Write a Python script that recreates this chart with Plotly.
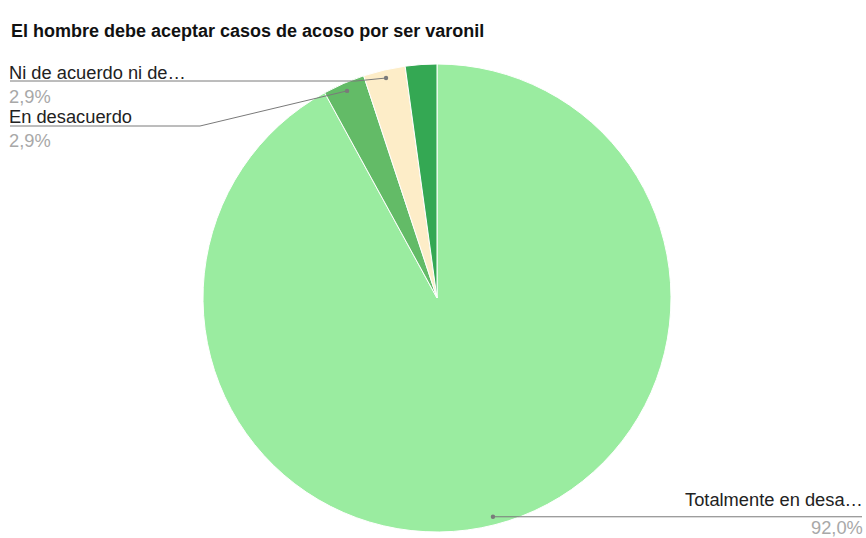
import math
import plotly.graph_objects as go

# ---- data ----
categories = ["Totalmente en desacuerdo", "En desacuerdo",
              "Ni de acuerdo ni en desacuerdo", "De acuerdo"]
short_labels = ["Totalmente en desa…", "En desacuerdo", "Ni de acuerdo ni de…", ""]
counts = [127, 4, 4, 3]
colors = ["#9aeca0", "#63bb67", "#fdedc8", "#34a853"]
title = "El hombre debe aceptar casos de acoso por ser varonil"

W, H = 866, 538
# pie box in pixels
left, right, top, bottom = 203, 671, 64, 532

def px(x):
    return x / W

def py(y):
    return 1 - y / H

fig = go.Figure(go.Pie(
    labels=categories, values=counts, sort=False, direction="clockwise",
    rotation=0, marker=dict(colors=colors, line=dict(color="white", width=1)),
    textinfo="none", hoverinfo="label+percent",
    domain=dict(x=[px(left), px(right)], y=[py(bottom), py(top)]),
    showlegend=False,
))

# geometry of the pie (computed from domain)
cx, cy = (left + right) / 2, (top + bottom) / 2
R = min(right - left, bottom - top) / 2
total = sum(counts)
mids = []
acc = 0
for v in counts:
    mids.append((acc + v / 2) / total * 360)
    acc += v
def dot(i):
    a = math.radians(mids[i])
    return cx + 0.965 * R * math.sin(a), cy - 0.965 * R * math.cos(a)

pcts = [("%.1f%%" % (v / total * 100)).replace(".", ",") for v in counts]

shapes = []
annotations = []
LINE = "#7a7a7a"
TXT = "#222222"
GRAY = "#a8a8a8"
FS = 18.3
FONT = "Liberation Sans, Arial"

def polyline(pts):
    path = "M " + " L ".join(f"{px(x)},{py(y)}" for x, y in pts)
    shapes.append(dict(type="path", xref="paper", yref="paper", path=path,
                       line=dict(color=LINE, width=1)))

def dotshape(x, y):
    shapes.append(dict(type="circle", xref="paper", yref="paper",
                       x0=px(x - 2.2), x1=px(x + 2.2), y0=py(y + 2.2), y1=py(y - 2.2),
                       fillcolor=LINE, line=dict(width=0)))

def label(name, pct, x, y_top, anchor):
    text = f"{name}<br><span style='color:{GRAY}'>{pct}</span>"
    annotations.append(dict(text=text, x=px(x), y=py(y_top), xref="paper", yref="paper",
                            xanchor=anchor, yanchor="top", align=anchor, showarrow=False,
                            borderpad=0,
                            font=dict(family=FONT, size=FS, color=TXT)))

def single(text, x, y, anchor, color):
    annotations.append(dict(text=text, x=px(x), y=py(y), xref="paper", yref="paper",
                            xanchor=anchor, yanchor="middle", showarrow=False, borderpad=0,
                            font=dict(family=FONT, size=FS, color=color)))

# Ni de acuerdo ni de...
dx, dy = dot(2)
polyline([(10, 81), (dx - 30, 81), (dx, dy)])
dotshape(dx, dy)
label(short_labels[2], pcts[2], 8, 61, "left")

# En desacuerdo
dx, dy = dot(1)
polyline([(10, 126), (200, 126), (dx, dy)])
dotshape(dx, dy)
label(short_labels[1], pcts[1], 8, 105, "left")

# Totalmente en desacuerdo
dx, dy = dot(0)
polyline([(dx, dy), (862, dy)])
dotshape(dx, dy)
single(short_labels[0], 864, dy - 17, "right", TXT)
single(pcts[0], 864, dy + 11, "right", GRAY)

annotations.append(dict(text="<b>" + title + "</b>", x=px(9), y=py(31), xref="paper",
                        yref="paper", xanchor="left", yanchor="middle", showarrow=False,
                        font=dict(family=FONT, size=18, color="#111111")))

fig.update_layout(
    width=W, height=H, margin=dict(l=0, r=0, t=0, b=0),
    paper_bgcolor="white", plot_bgcolor="white",
    shapes=shapes, annotations=annotations,
)

fig.write_html("out.html", config={"displayModeBar": False},
               post_script="document.body.style.margin='0';document.body.style.overflow='hidden';")
